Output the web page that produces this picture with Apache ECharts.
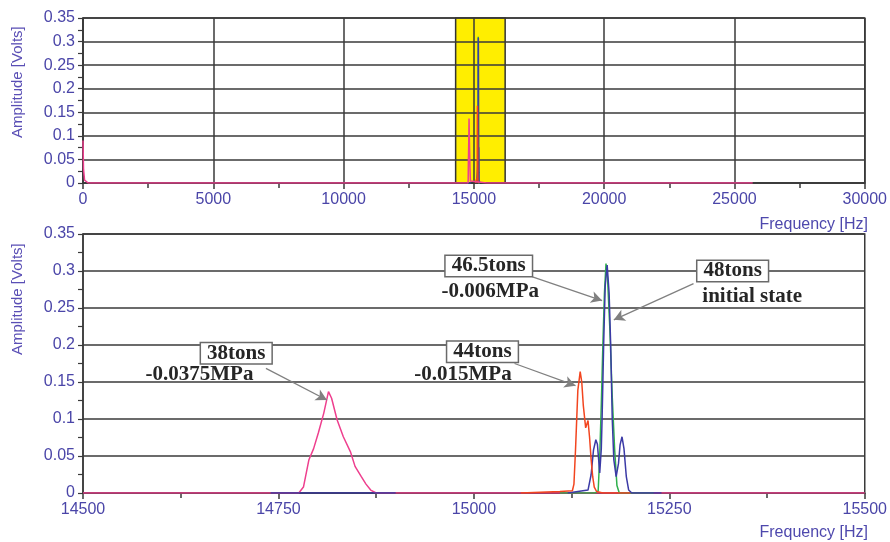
<!DOCTYPE html>
<html><head><meta charset="utf-8">
<script src="https://cdn.jsdelivr.net/npm/echarts@6/dist/echarts.min.js"></script>
<style>html,body{margin:0;padding:0;background:#fff}#c{width:890px;height:542px}</style>
</head><body><div id="c"></div>
<script>
// ---- data (frequency [Hz], amplitude [Volts]) ----
const xTicksTop = [0, 5000, 10000, 15000, 20000, 25000, 30000];
const xTicksBottom = [14500, 14750, 15000, 15250, 15500];
const yTicks = [0, 0.05, 0.1, 0.15, 0.2, 0.25, 0.3, 0.35];

const pink38 = [[14500,0],[14776,0],[14782,0.008],[14789,0.045],[14795,0.06],[14801,0.081],[14808,0.108],[14814,0.137],[14818,0.128],[14825,0.099],[14833,0.076],[14842,0.056],[14848,0.036],[14856,0.022],[14862,0.012],[14868,0.004],[14875,0],[15500,0]];
const red44 = [[15060,0],[15110,0.002],[15126,0.003],[15128,0.012],[15130,0.058],[15133,0.139],[15136,0.164],[15138,0.15],[15140,0.118],[15143,0.088],[15146,0.098],[15148,0.075],[15150,0.045],[15152,0.022],[15154,0.008],[15157,0.002],[15165,0],[15200,0]];
const green46 = [[15110,0],[15155,0],[15159,0.003],[15161,0.05],[15163,0.12],[15165,0.2],[15167,0.27],[15169,0.31],[15171,0.29],[15174,0.22],[15177,0.13],[15180,0.06],[15183,0.01],[15186,0],[15230,0]];
const blue48 = [[14740,0],[14900,0],[14950,'-'],[15120,0],[15146,0.004],[15150,0.025],[15153,0.058],[15156,0.072],[15158,0.066],[15161,0.027],[15163,0.06],[15164,0.1],[15166,0.2],[15168,0.28],[15170.5,0.308],[15173,0.27],[15175,0.2],[15177,0.1],[15179,0.045],[15182,0.022],[15185,0.04],[15187,0.065],[15189.5,0.076],[15192,0.06],[15195,0.022],[15198,0.004],[15202,0],[15240,0]];
const pinkLowFreq = [[0,0.09],[20,0.03],[60,0.006],[200,0]];
const pinkTail = [[25700,0]];
const zoomBand = [14300, 16200];

// annotation text (anchor in data coords)
const annoLabels = [
  {text:'38tons', f:14696, a:0.189, box:true},
  {text:'-0.0375MPa', f:14649, a:0.1595, box:false},
  {text:'46.5tons', f:15019, a:0.3068, box:true},
  {text:'-0.006MPa', f:15021, a:0.2716, box:false},
  {text:'48tons', f:15331, a:0.300, box:true},
  {text:'initial state', f:15356, a:0.2649, box:false},
  {text:'44tons', f:15011, a:0.191, box:true},
  {text:'-0.015MPa', f:14986, a:0.1595, box:false}
];
const annoArrows = [
  [[14734,0.1685],[14812,0.1257]],
  [[15075,0.292],[15164,0.260]],
  [[15281,0.283],[15179,0.234]],
  [[15052,0.175],[15130,0.145]]
];

// ---- chart ----
const LBL = '#4a45a8';
const GRIDC = '#3a3a3a';
const chart = echarts.init(document.getElementById('c'));

function xAxisCfg(idx, min, max, interval, splitShow){
  return {
    type:'value', gridIndex:idx, min:min, max:max, interval:interval, z:2,
    axisLine:{show:true, onZero:false, lineStyle:{color:GRIDC, width:1.5}},
    axisTick:{show:true, length:6, lineStyle:{color:GRIDC, width:1.5}},
    minorTick:{show:true, splitNumber:2, length:5, lineStyle:{color:GRIDC, width:1.5}},
    axisLabel:{color:LBL, fontSize:16, fontFamily:'Liberation Sans', margin:9,
      formatter:v=>String(v)},
    splitLine:{show:splitShow, lineStyle:{color:GRIDC, width:1.5}}
  };
}
function yAxisCfg(idx){
  return {
    type:'value', gridIndex:idx, min:0, max:0.35, interval:0.05, z:2,
    axisLine:{show:true, lineStyle:{color:GRIDC, width:1.5}},
    axisTick:{show:true, length:5, lineStyle:{color:GRIDC, width:1.2}},
    minorTick:{show:true, splitNumber:2, length:5, lineStyle:{color:GRIDC, width:1.2}},
    axisLabel:{color:LBL, fontSize:16, fontFamily:'Liberation Sans', margin:8,
      formatter:v=>String(+v.toFixed(2))},
    splitLine:{show:true, lineStyle:{color:GRIDC, width:1.5}}
  };
}
function line(name, data, color, xi, yi, extra){
  return Object.assign({
    name:name, type:'line', xAxisIndex:xi, yAxisIndex:yi, data:data,
    showSymbol:false, symbol:'none', z:3, animation:false, connectNulls:false,
    lineStyle:{color:color, width:1.5}, itemStyle:{color:color}
  }, extra||{});
}

const C_PINK = '#ee3f8e', C_RED = '#f2451f', C_GREEN = '#2fb04c', C_BLUE = '#3b3aa6';

const markPointData = annoLabels.map(d => ({
  coord:[d.f, d.a], value:d.text,
  label:{
    show:true, position:'inside', formatter:d.text,
    fontFamily:'Liberation Serif', fontWeight:'bold', fontSize:21, color:'#262626',
    backgroundColor: d.box ? '#ffffff' : 'transparent',
    borderColor: d.box ? '#6a6a6a' : 'transparent',
    borderWidth: d.box ? 1.5 : 0,
    padding: d.box ? [0,6,-1,6] : 0
  }
}));

const option = {
  animation:false,
  backgroundColor:'#ffffff',
  grid:[
    {left:83, right:21, top:18, bottom:359, show:true, borderColor:GRIDC, borderWidth:1.5},
    {left:83, right:21, top:234, bottom:49, show:true, borderColor:GRIDC, borderWidth:1.5}
  ],
  xAxis:[ xAxisCfg(0, 0, 30000, 5000, true), xAxisCfg(1, 14500, 15500, 250, false) ],
  yAxis:[ yAxisCfg(0), yAxisCfg(1) ],
  series:[
    // yellow zoom band (top)
    {type:'line', xAxisIndex:0, yAxisIndex:0, data:[], z:1, silent:true,
     markArea:{silent:true, itemStyle:{color:'#ffee00', borderColor:'#333', borderWidth:1.5},
       data:[[{xAxis:zoomBand[0], yAxis:0},{xAxis:zoomBand[1], yAxis:0.35}]]}},
    // top overview
    line('46.5tons', green46, C_GREEN, 0, 0),
    line('48tons', blue48, C_BLUE, 0, 0),
    line('44tons', red44, C_RED, 0, 0),
    line('38tons', pinkLowFreq.concat(pink38, pinkTail), C_PINK, 0, 0),
    // bottom detail
    line('38tons', pink38, C_PINK, 1, 1),
    line('46.5tons', green46, C_GREEN, 1, 1),
    line('48tons', blue48, C_BLUE, 1, 1),
    line('44tons', red44, C_RED, 1, 1, {
      markLine:{silent:true, animation:false, symbol:['none','arrow'], symbolSize:[9,11],
        label:{show:false}, lineStyle:{color:'#808080', width:1.3, type:'solid'},
        emphasis:{disabled:true},
        data: annoArrows.map(a => [{coord:a[0]},{coord:a[1]}])},
      markPoint:{silent:true, animation:false, symbol:'rect', symbolSize:1,
        itemStyle:{color:'rgba(0,0,0,0)'}, data:markPointData}
    })
  ],
  graphic:[
    {type:'text', x:18, y:138, rotation:Math.PI/2,
     style:{text:'Amplitude [Volts]', fill:'#5a4fb5', font:'15px "Liberation Sans"', align:'left', verticalAlign:'middle'}},
    {type:'text', x:18, y:355, rotation:Math.PI/2,
     style:{text:'Amplitude [Volts]', fill:'#5a4fb5', font:'15px "Liberation Sans"', align:'left', verticalAlign:'middle'}},
    {type:'text', x:868, y:225,
     style:{text:'Frequency [Hz]', fill:'#4e48ad', font:'16px "Liberation Sans"', align:'right', verticalAlign:'middle'}},
    {type:'text', x:868, y:533,
     style:{text:'Frequency [Hz]', fill:'#4e48ad', font:'16px "Liberation Sans"', align:'right', verticalAlign:'middle'}}
  ]
};
chart.setOption(option);
</script></body></html>
